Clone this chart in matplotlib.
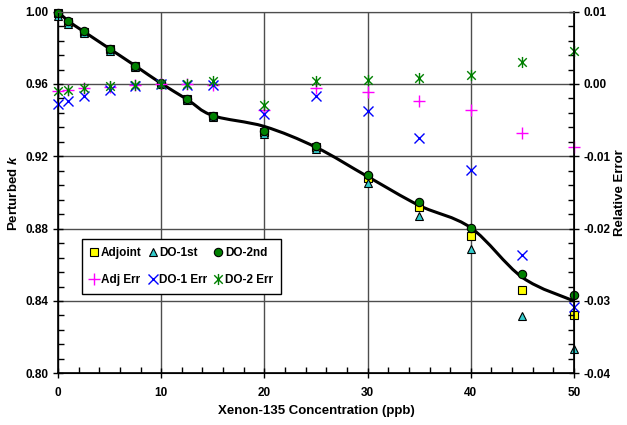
import numpy as np
import matplotlib
matplotlib.use("Agg")
import matplotlib.pyplot as plt
from matplotlib.path import Path
from matplotlib.patches import PathPatch
from matplotlib.ticker import MultipleLocator, FormatStrFormatter

plt.rcParams['font.family'] = ['Liberation Sans', 'DejaVu Sans']
plt.rcParams['font.weight'] = 'bold'
plt.rcParams['axes.unicode_minus'] = False
plt.rcParams['mathtext.fontset'] = 'custom'
plt.rcParams['mathtext.it'] = 'Liberation Sans:bold:italic'
plt.rcParams['mathtext.rm'] = 'Liberation Sans:bold'

# xenon concentration (ppb)
xenon = [0, 1, 2.5, 5, 7.5, 10, 12.5, 15, 20, 25, 30, 35, 40, 45, 50]

# perturbed k (left axis)
k_exact = [1.000, 0.9948, 0.9890, 0.9795, 0.9700, 0.9603, 0.9515, 0.9425,
           0.9365, 0.9250, 0.9088, 0.8928, 0.8805, 0.8530, 0.8400]
k_adjoint = [0.9990, 0.9945, 0.9890, 0.9792, 0.9700, 0.9602, 0.9515, 0.9423,
             0.9333, 0.9250, 0.9082, 0.8922, 0.8762, 0.8463, 0.8323]
k_do1 = [0.9975, 0.9930, 0.9880, 0.9785, 0.9695, 0.9600, 0.9510, 0.9418,
         0.9322, 0.9240, 0.9054, 0.8870, 0.8688, 0.8317, 0.8133]
k_do2 = [0.9995, 0.9950, 0.9893, 0.9796, 0.9700, 0.9606, 0.9517, 0.9425,
         0.9342, 0.9259, 0.9099, 0.8948, 0.8806, 0.8550, 0.8433]

# relative errors (right axis)
err_adj = [-0.0010, -0.0008, -0.0006, -0.0004, -0.0002, 0.0000, 0.0000, -0.0002,
           -0.0036, -0.0006, -0.0011, -0.0023, -0.0036, -0.0068, -0.0087]
err_do1 = [-0.0027, -0.0024, -0.0017, -0.0009, -0.0003, 0.0000, -0.0001, -0.0002,
           -0.0041, -0.0016, -0.0038, -0.0074, -0.0119, -0.0236, -0.0308]
err_do2 = [-0.0010, -0.0008, -0.0006, -0.0003, -0.0001, 0.0000, 0.0000, 0.0004,
           -0.0029, 0.0004, 0.0006, 0.0008, 0.0013, 0.0030, 0.0045]


def smooth_path(x, y):
    """Bezier path through the points, like a smoothed line in a spreadsheet"""
    x = np.asarray(x, float)
    y = np.asarray(y, float)
    n = len(x)
    verts = [(x[0], y[0])]
    codes = [Path.MOVETO]
    for i in range(n - 1):
        i0 = max(i - 1, 0)
        i3 = min(i + 2, n - 1)
        c1 = (x[i] + (x[i + 1] - x[i0]) / 6, y[i] + (y[i + 1] - y[i0]) / 6)
        c2 = (x[i + 1] - (x[i3] - x[i]) / 6, y[i + 1] - (y[i3] - y[i]) / 6)
        verts += [c1, c2, (x[i + 1], y[i + 1])]
        codes += [Path.CURVE4] * 3
    return Path(verts, codes)


fig = plt.figure(figsize=(6.27, 4.25), dpi=100)
ax = fig.add_axes([0.0925, 0.1216, 0.823, 0.851])
ax2 = ax.twinx()

ax.set_xlim(0, 50)
ax.set_ylim(0.80, 1.00)
ax2.set_ylim(-0.04, 0.01)

ax.grid(True, which='major', color='#4d4d4d', lw=1)
ax.set_axisbelow(True)

ax.add_patch(PathPatch(smooth_path(xenon, k_exact), fill=False, color='black',
                       lw=2.2, zorder=2))

h_adj, = ax.plot(xenon, k_adjoint, ls='none', marker='s', ms=6, mfc='#FFFF00',
                 mec='black', mew=0.8, zorder=3, clip_on=False, label='Adjoint')
h_do1, = ax.plot(xenon, k_do1, ls='none', marker='^', ms=6, mfc='#33CCCC',
                 mec='black', mew=0.8, zorder=3, clip_on=False, label='DO-1st')
h_do2, = ax.plot(xenon, k_do2, ls='none', marker='o', ms=6, mfc='#008000',
                 mec='black', mew=0.8, zorder=4, clip_on=False, label='DO-2nd')

star = Path([(-1, -1), (1, 1), (-1, 1), (1, -1), (0, -1.3), (0, 1.3)],
            [Path.MOVETO, Path.LINETO] * 3)

h_e1, = ax2.plot(xenon, err_adj, ls='none', marker='+', ms=9, mec='#FF00FF',
                 mew=1.0, clip_on=False, label='Adj Err')
h_e2, = ax2.plot(xenon, err_do1, ls='none', marker='x', ms=7, mec='#0000FF',
                 mew=1.0, clip_on=False, label='DO-1 Err')
h_e3, = ax2.plot(xenon, err_do2, ls='none', marker=star, ms=8, mec='#008000',
                 mfc='none', mew=1.0, clip_on=False, label='DO-2 Err')

ax.xaxis.set_major_locator(MultipleLocator(10))
ax.xaxis.set_minor_locator(MultipleLocator(2))
ax.yaxis.set_major_locator(MultipleLocator(0.04))
ax.yaxis.set_minor_locator(MultipleLocator(0.008))
ax.yaxis.set_major_formatter(FormatStrFormatter('%.2f'))
ax2.yaxis.set_major_locator(MultipleLocator(0.01))
ax2.yaxis.set_minor_locator(MultipleLocator(0.002))
ax2.yaxis.set_major_formatter(FormatStrFormatter('%.2f'))

for a in (ax, ax2):
    a.tick_params(which='major', direction='inout', length=7, width=1,
                  labelsize=8.5)
    a.tick_params(which='minor', direction='in', length=4, width=1)
    for lab in a.get_xticklabels() + a.get_yticklabels():
        lab.set_fontweight('bold')
ax.tick_params(axis='x', pad=6)

for s in ('left', 'bottom'):
    ax.spines[s].set_linewidth(1.2)
ax2.spines['right'].set_linewidth(1.2)
for s in ('top',):
    ax.spines[s].set_color('#4d4d4d')
    ax2.spines[s].set_color('#4d4d4d')

ax.set_xlabel('Xenon-135 Concentration (ppb)', fontsize=9.5, fontweight='bold',
              labelpad=5)
ax.set_ylabel(r'Perturbed $k$', fontsize=9.5, fontweight='bold', labelpad=4)
ax2.set_ylabel('Relative Error', fontsize=9.5, fontweight='bold', labelpad=2)

handles = [h_adj, h_e1, h_do1, h_e2, h_do2, h_e3]
leg = ax2.legend(handles=handles, ncol=3, loc='upper left',
                 bbox_to_anchor=(0.046, 0.371), borderaxespad=0,
                 frameon=True, fancybox=False,
                 edgecolor='black', framealpha=1,
                 prop={'weight': 'bold', 'size': 8.5},
                 handlelength=0.7, handletextpad=0.2, columnspacing=0.6,
                 labelspacing=1.25, borderpad=0.7)
leg.get_frame().set_linewidth(1.0)

fig.savefig('out.png', dpi=100)
